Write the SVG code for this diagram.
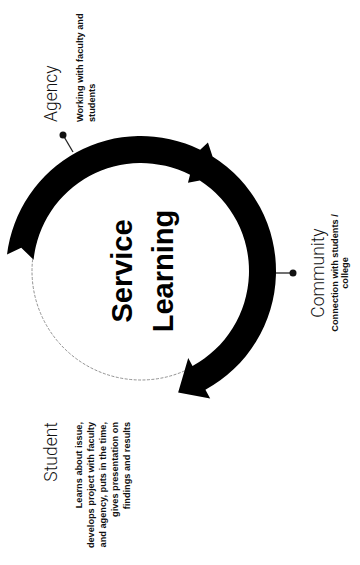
<svg xmlns="http://www.w3.org/2000/svg" width="360" height="565" viewBox="0 0 360 565">
<style>
.label{font-family:Roboto,"Liberation Sans",sans-serif;font-weight:300;font-size:17.5px;fill:#111}
.desc{font-family:"Liberation Sans",Arial,sans-serif;font-weight:bold;font-size:9.2px;fill:#111}
.title{font-family:"Liberation Sans",Arial,sans-serif;font-weight:bold;font-size:29px;fill:#000}
.tick{stroke:#222;stroke-width:1.3;fill:none}
.dot{fill:#111}
</style>
<rect width="360" height="565" fill="#fff"/>
<g id="cycle">
  <circle cx="141" cy="271" r="109" fill="none" stroke="#777" stroke-width="0.8" stroke-dasharray="3 1.5"/>
  <path fill="#000" d="M7.0,254.5 A135,135 0 0 1 200.18,149.66 L207.95,142.38 L212.54,156.51 A135,135 0 0 1 205.42,389.64 L210.19,398.43 L178.13,392.45 L188.24,358.0 L192.53,365.91 A108,108 0 0 0 199.82,180.42 L187.95,182.70 L190.03,174.77 A108,108 0 0 0 33.59,259.71 L21.24,247.72 Z"/>
</g>
<g id="center-label">
  <text class="title" transform="translate(132,271) rotate(-90)" text-anchor="middle">Service</text>
  <text class="title" transform="translate(173,271) rotate(-90)" text-anchor="middle">Learning</text>
</g>
<g id="connectors">
  <line class="tick" x1="73" y1="152" x2="63" y2="135"/>
  <circle class="dot" cx="63" cy="135" r="3.5"/>
  <line class="tick" x1="276" y1="273" x2="293" y2="273"/>
  <circle class="dot" cx="293" cy="273" r="3.5"/>
</g>
<g id="agency" transform="translate(57,122) rotate(-90)">
  <text class="label" x="0" y="0" text-anchor="start">Agency</text>
  <text class="desc" text-anchor="start"><tspan x="0" y="26">Working with faculty and</tspan><tspan x="0" y="38">students</tspan></text>
</g>
<g id="community" transform="translate(324,273) rotate(-90)">
  <text class="label" x="0" y="0" text-anchor="middle">Community</text>
  <text class="desc" text-anchor="middle"><tspan x="0" y="14">Connection with students /</tspan><tspan x="0" y="23.5">college</tspan></text>
</g>
<g id="student" transform="translate(57,422) rotate(-90)">
  <text class="label" x="0" y="0" text-anchor="end">Student</text>
  <text class="desc" text-anchor="end"><tspan x="0" y="25">Learns about issue,</tspan><tspan x="0" y="37">develops project with faculty</tspan><tspan x="0" y="49">and agency, puts in the time,</tspan><tspan x="0" y="61">gives presentation on</tspan><tspan x="0" y="73">findings and results</tspan></text>
</g>
</svg>
